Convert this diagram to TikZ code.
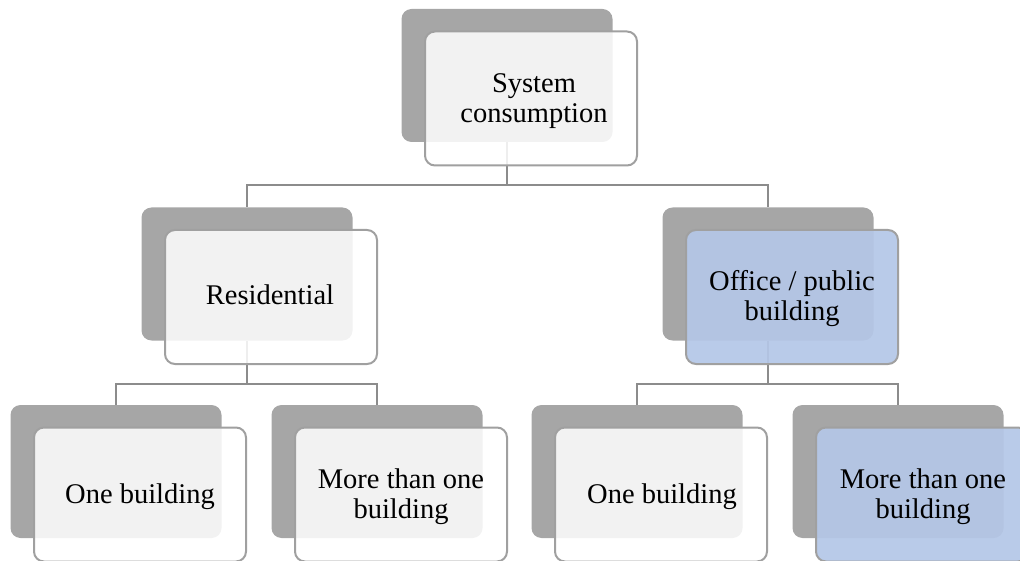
\documentclass[tikz,border=0pt]{standalone}
\usepackage{fontspec}
\setmainfont{Liberation Serif}
\definecolor{backgray}{HTML}{A6A6A6}
\definecolor{bordergray}{HTML}{A0A0A0}
\definecolor{conngray}{HTML}{8C8C8C}
\definecolor{officeblue}{HTML}{B4C7E7}
\tikzset{
  backbox/.style={fill=backgray, rounded corners=10pt, minimum width=211pt,
    minimum height=133pt, inner sep=0pt, outer sep=0pt},
  frontbox/.style={draw=bordergray, line width=2pt, rounded corners=10pt,
    fill=white, fill opacity=0.86, minimum width=212pt, minimum height=134pt,
    inner sep=0pt, outer sep=0pt},
  bluebox/.style={frontbox, fill=officeblue, fill opacity=0.93},
  conn/.style={draw=conngray, line width=2.5pt},
  lbl/.style={font=\fontsize{28.5}{30}\selectfont, align=center, inner sep=0pt}
}
\begin{document}
\begin{tikzpicture}[x=1pt, y=-1pt]
\useasboundingbox (0,0) rectangle (1020,561);

% shadow plates
\node[backbox] (b0) at (507,75.5) {};
\node[backbox] (b1) at (247,274) {};
\node[backbox] (b2) at (768,274) {};
\node[backbox] (b3) at (116,471.5) {};
\node[backbox] (b4) at (377,471.5) {};
\node[backbox] (b5) at (637,471.5) {};
\node[backbox] (b6) at (898,471.5) {};

% bus lines of the hierarchy
\coordinate (bus0) at (507,185);
\coordinate (bus1) at (247,384);
\coordinate (bus2) at (768,384);
\draw[conn] (b0.south) -- (bus0) -| (b1.north);
\draw[conn] (bus0) -| (b2.north);
\draw[conn] (b1.south) -- (bus1) -| (b3.north);
\draw[conn] (bus1) -| (b4.north);
\draw[conn] (b2.south) -- (bus2) -| (b5.north);
\draw[conn] (bus2) -| (b6.north);

% front cards
\node[frontbox] (f0) at (531,98.5) {};
\node[frontbox] (f1) at (271,297) {};
\node[bluebox]  (f2) at (792,297) {};
\node[frontbox] (f3) at (140,494.5) {};
\node[frontbox] (f4) at (401,494.5) {};
\node[frontbox] (f5) at (661,494.5) {};
\node[bluebox]  (f6) at (922,494.5) {};

% labels
\node[lbl] (t0) at (534,101.5) {System\\consumption};
\node[lbl, anchor=base] (t1) at (270,305) {Residential};
\node[lbl] (t2) at (792,299) {Office / public\\building};
\node[lbl, anchor=base] (t3) at (140,503) {One building};
\node[lbl] (t4) at (401,496.5) {More than one\\building};
\node[lbl, anchor=base] (t5) at (662,503) {One building};
\node[lbl] (t6) at (923,496.5) {More than one\\building};
\end{tikzpicture}
\end{document}
